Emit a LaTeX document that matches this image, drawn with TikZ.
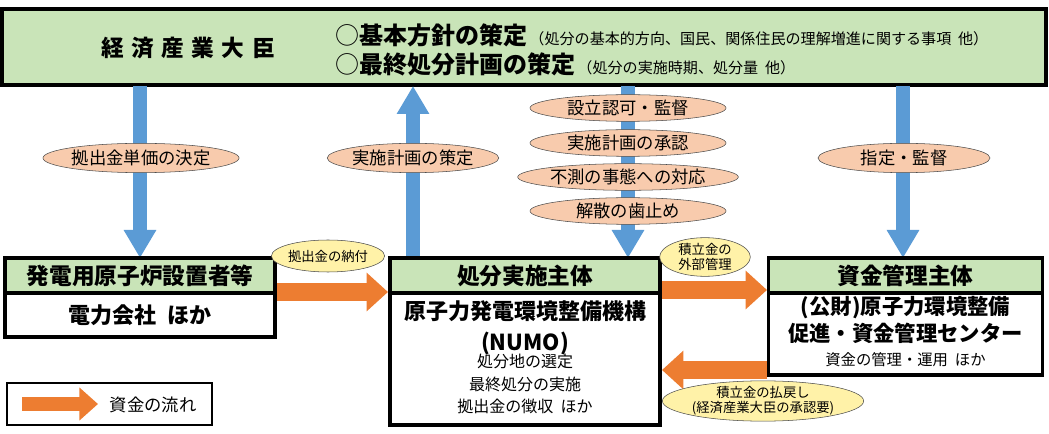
\documentclass[tikz,border=0pt]{standalone}
\usepackage{fontspec}
\setmainfont{Noto Sans CJK JP}
\usetikzlibrary{arrows.meta,shapes.geometric}
\definecolor{gr}{HTML}{C9E4B8}
\definecolor{bl}{HTML}{5B9BD5}
\definecolor{og}{HTML}{ED7D31}
\definecolor{pe}{HTML}{F8CBAD}
\definecolor{ye}{HTML}{FFF2A8}
\newcommand{\fs}[1]{\fontsize{#1}{#1}\selectfont}
\tikzset{
 hdr/.style={draw,line width=2.4pt,fill=gr,minimum height=26.25pt,inner sep=0pt,font=\bfseries\fontsize{17}{18}\selectfont},
 bodybox/.style={draw,line width=2.4pt,fill=white,inner sep=0pt,align=center},
 bluearr/.style={draw=bl,line width=10.5pt,-{Triangle[width=23pt,length=21pt]}},
 orarr/.style={draw=og,line width=14pt,-{Triangle[width=28pt,length=16pt]}},
 pel/.style={ellipse,draw=black!70,fill=pe,inner sep=0pt,minimum height=22pt,font=\fontsize{13}{14}\selectfont},
 yel/.style={ellipse,draw=black!70,fill=ye,inner sep=0pt,align=center,font=\fontsize{10}{11}\selectfont},
}
\begin{document}
\begin{tikzpicture}[x=0.75pt,y=-0.75pt]
\useasboundingbox (0,0) rectangle (1049,434);
% top box
\node[draw,line width=3pt,fill=gr,minimum width=783pt,minimum height=57pt,inner sep=0pt] (top) at (524,47) {};
\node[font=\bfseries\fontsize{17}{18}\selectfont] (title) at (188,48) {経\,\,済\,\,産\,\,業\,\,大\,\,臣};
\node[anchor=west,inner sep=0pt] (l1) at (335,35) {{\fs{18}○\textbf{基本方針の策定}}\,{\fs{11.3}（処分の基本的方向、国民、関係住民の理解増進に関する事項\ \ 他）}};
\node[anchor=west,inner sep=0pt] (l2) at (335,64) {{\fs{18}○\textbf{最終処分計画の策定}}\,{\fs{11.3}（処分の実施時期、処分量\ \ 他）}};
% coordinates
\coordinate (a1t) at (140,86); \coordinate (a1b) at (140,258);
\coordinate (a2t) at (413,86); \coordinate (a2b) at (413,258);
\coordinate (a3t) at (628,86); \coordinate (a3b) at (628,258);
\coordinate (a4t) at (903,86); \coordinate (a4b) at (903,258);
\draw[bluearr] (a1t) -- (a1b);
\draw[bluearr] (a2b) -- (a2t);
\draw[bluearr] (a3t) -- (a3b);
\draw[bluearr] (a4t) -- (a4b);
% orange arrows
\coordinate (o1s) at (277,292); \coordinate (o1e) at (388,292);
\coordinate (o2s) at (662,290); \coordinate (o2e) at (767,290);
\coordinate (o3s) at (767,370); \coordinate (o3e) at (662,370);
\draw[orarr] (o1s) -- (o1e);
\draw[orarr] (o2s) -- (o2e);
\draw[orarr] (o3s) -- (o3e);
% left box
\node[bodybox,minimum width=202.5pt,minimum height=33pt] (lb) at (140,315) {\bfseries\fs{16.5}電力会社\ \ ほか};
\node[hdr,minimum width=202.5pt] (lh) at (140,275.5) {発電用原子炉設置者等};
% middle box
\node[bodybox,minimum width=202.5pt,minimum height=99pt] (mb) at (525,359) {};
\node[hdr,minimum width=202.5pt] (mh) at (525,275.5) {処分実施主体};
\node[align=center,font=\bfseries\fontsize{16.5}{23}\selectfont] (mt) at (525,328) {原子力発電環境整備機構\\(NUMO)};
\node[align=center,font=\fontsize{12}{17}\selectfont] (ms) at (525,384) {処分地の選定\\最終処分の実施\\拠出金の徴収\ \ ほか};
% right box
\node[bodybox,minimum width=206pt,minimum height=61.5pt] (rb) at (905.5,334) {};
\node[hdr,minimum width=206pt] (rh) at (905.5,275.5) {資金管理主体};
\node[align=center,font=\bfseries\fontsize{16}{20}\selectfont] (rt) at (905.5,320) {(公財)原子力環境整備\\促進・資金管理センター};
\node[font=\fs{11.5}] (rs) at (905.5,360) {資金の管理・運用\ \ ほか};
% ellipses
\node[pel,minimum width=131pt] (e1) at (141,158) {拠出金単価の決定};
\node[pel,minimum width=125pt] (e2) at (413,158) {実施計画の策定};
\node[pel,minimum width=147pt,minimum height=20pt] (e3) at (628,108) {設立認可・監督};
\node[pel,minimum width=147pt,minimum height=20pt] (e4) at (628,143) {実施計画の承認};
\node[pel,minimum width=147pt,minimum height=20pt] (e5) at (628,177) {不測の事態への対応};
\node[pel,minimum width=147pt,minimum height=20pt] (e6) at (628,211) {解散の歯止め};
\node[pel,minimum width=129pt] (e7) at (904,158) {指定・監督};
\node[yel,minimum width=68pt,minimum height=24pt] (y1) at (328,256) {拠出金の納付};
\node[yel,minimum width=68pt,minimum height=29pt] (y2) at (705,257) {積立金の\\外部管理};
\node[yel,minimum width=146pt,minimum height=29pt] (y3) at (763,401) {積立金の払戻し\\(経済産業大臣の承認要)};
% legend
\node[draw,line width=1.5pt,minimum width=154pt,minimum height=31.5pt] (leg) at (109.5,404) {};
\coordinate (ls) at (22,404); \coordinate (le) at (98,404);
\draw[orarr,line width=10pt,-{Triangle[width=24pt,length=14pt]}] (ls) -- (le);
\node[font=\fs{13}] (lt) at (153,405) {資金の流れ};
\end{tikzpicture}
\end{document}
